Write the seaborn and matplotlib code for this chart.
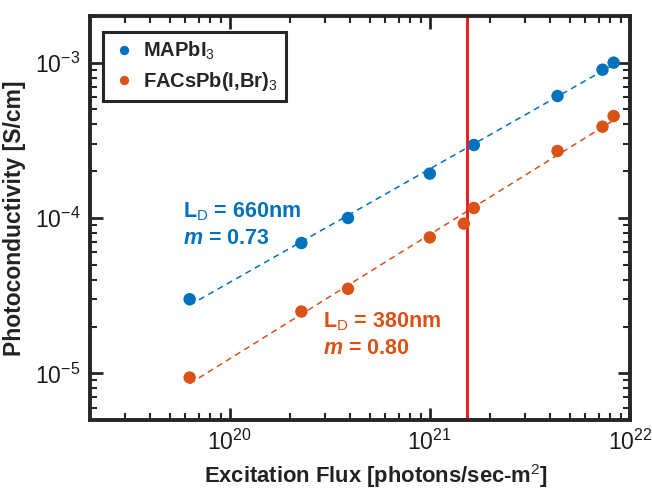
import numpy as np
import pandas as pd
import matplotlib
matplotlib.use("Agg")
import matplotlib.pyplot as plt
import seaborn as sns
from matplotlib.ticker import LogLocator, NullFormatter, LogFormatterMathtext

# Measured photoconductivity vs. excitation flux
flux_mapbi = [6.3e19, 2.28e20, 3.9e20, 1.0e21, 1.66e21, 4.35e21, 7.3e21, 8.3e21]
sigma_mapbi = [3.0e-5, 6.9e-5, 1.0e-4, 1.93e-4, 2.95e-4, 6.1e-4, 9.0e-4, 1.0e-3]

flux_facs = [6.3e19, 2.28e20, 3.9e20, 1.0e21, 1.48e21, 1.66e21, 4.35e21, 7.3e21, 8.3e21]
sigma_facs = [9.4e-6, 2.5e-5, 3.5e-5, 7.5e-5, 9.2e-5, 1.16e-4, 2.7e-4, 3.87e-4, 4.53e-4]

series_names = ["MAPbI$_3$", "FACsPb(I,Br)$_3$"]
slopes = [0.73, 0.80]
diffusion_lengths = ["660nm", "380nm"]
threshold_flux = 1.54e21

blue = "#0072BD"
orange = "#D95319"

sns.set_style("ticks")
plt.rcParams["font.family"] = ["Liberation Sans", "DejaVu Sans"]
plt.rcParams["mathtext.fontset"] = "custom"
plt.rcParams["mathtext.rm"] = "Liberation Sans"
plt.rcParams["mathtext.it"] = "Liberation Sans:italic:bold"
plt.rcParams["mathtext.bf"] = "Liberation Sans:bold"

df = pd.concat([
    pd.DataFrame({"flux": flux_mapbi, "sigma": sigma_mapbi, "sample": series_names[0]}),
    pd.DataFrame({"flux": flux_facs, "sigma": sigma_facs, "sample": series_names[1]}),
])

fig = plt.figure(figsize=(6.52, 4.96), dpi=100)
ax = fig.add_axes([0.138, 0.153, 0.828, 0.815])
ax.set_xscale("log")
ax.set_yscale("log")

# Power-law fits with the stated exponents
fit_rows = []
for name, m, xs, ys in [(series_names[0], slopes[0], flux_mapbi, sigma_mapbi),
                        (series_names[1], slopes[1], flux_facs, sigma_facs)]:
    lx = np.log10(xs)
    ly = np.log10(ys)
    b = np.mean(ly - m * lx)
    xfit = np.array([min(xs), max(xs)])
    fit_rows.append(pd.DataFrame({"flux": xfit, "sigma": 10 ** (b + m * np.log10(xfit)), "sample": name}))
fit_df = pd.concat(fit_rows)

palette = {series_names[0]: blue, series_names[1]: orange}
sns.lineplot(data=fit_df, x="flux", y="sigma", hue="sample", palette=palette,
             ax=ax, legend=False, linewidth=1.1, linestyle=(0, (4, 3)))
sns.scatterplot(data=df, x="flux", y="sigma", hue="sample", palette=palette,
                ax=ax, s=80, edgecolor="none", zorder=3, legend=True)

ax.axvline(threshold_flux, color="#EE1111", linewidth=2, zorder=2)

ax.set_xlim(2e19, 1e22)
ax.set_ylim(5e-6, 2e-3)

ax.xaxis.set_major_locator(LogLocator(base=10, numticks=10))
ax.xaxis.set_minor_locator(LogLocator(base=10, subs=np.arange(2, 10), numticks=20))
ax.yaxis.set_major_locator(LogLocator(base=10, numticks=10))
ax.yaxis.set_minor_locator(LogLocator(base=10, subs=np.arange(2, 10), numticks=20))
ax.xaxis.set_minor_formatter(NullFormatter())
ax.yaxis.set_minor_formatter(NullFormatter())
ax.xaxis.set_major_formatter(LogFormatterMathtext())
ax.yaxis.set_major_formatter(LogFormatterMathtext())

ax.tick_params(which="both", direction="in", top=True, right=True, color="#262626")
ax.tick_params(which="major", length=9, width=2, labelsize=16.5, pad=7, labelcolor="#1a1a1a")
ax.tick_params(which="minor", length=5, width=1.5)
for sp in ax.spines.values():
    sp.set_linewidth(2.8)
    sp.set_color("#262626")

ax.set_xlabel("Excitation Flux [photons/sec-m$^2$]", fontsize=15.8, fontweight="bold",
              color="#222222", labelpad=7)
ax.xaxis.set_label_coords(0.53, -0.105)
ax.set_ylabel("Photoconductivity [S/cm]", fontsize=16.5, fontweight="bold",
              color="#222222", labelpad=6)

ax.text(0.172, 0.502, f"L$_\\mathrm{{D}}$ = {diffusion_lengths[0]}", transform=ax.transAxes,
        color=blue, fontsize=15.5, fontweight="bold")
ax.text(0.172, 0.435, f"$m$ = {slopes[0]:.2f}", transform=ax.transAxes,
        color=blue, fontsize=15.5, fontweight="bold")
ax.text(0.432, 0.23, f"L$_\\mathrm{{D}}$ = {diffusion_lengths[1]}", transform=ax.transAxes,
        color=orange, fontsize=15.5, fontweight="bold")
ax.text(0.432, 0.163, f"$m$ = {slopes[1]:.2f}", transform=ax.transAxes,
        color=orange, fontsize=15.5, fontweight="bold")

handles, labels = ax.get_legend_handles_labels()
leg = ax.legend(handles, labels, loc="upper left", bbox_to_anchor=(0.005, 0.985),
                frameon=True, fancybox=False, handletextpad=0.3,
                borderpad=0.4, labelspacing=0.4, handlelength=1.3, markerscale=0.75,
                prop={"weight": "bold", "size": 14.5})
leg.get_frame().set_edgecolor("#262626")
leg.get_frame().set_linewidth(2.2)
leg.get_frame().set_alpha(1)

fig.savefig("out.png", dpi=100)
